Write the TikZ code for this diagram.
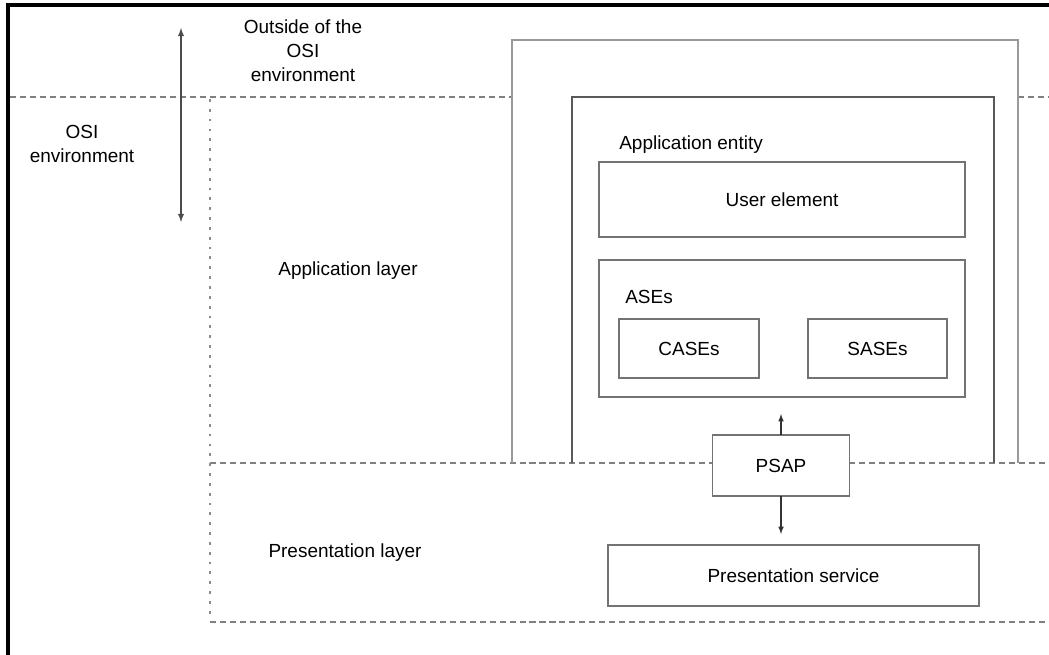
\documentclass[tikz,border=0pt]{standalone}
\usepackage{fontspec}
\setmainfont{Liberation Sans}
\begin{document}
\begin{tikzpicture}[x=0.025cm,y=-0.025cm,>=latex,
  font=\fontsize{13.5}{17}\selectfont,
  box/.style={draw=black!55,line width=1pt,fill=white,inner sep=0pt,outer sep=0pt},
  wall/.style={draw=black!50,line width=1.1pt},
  layer/.style={draw=black!50,line width=0.8pt,dash pattern=on 4.3pt off 2.8pt},
  edge/.style={draw=black!45,line width=1.3pt,dash pattern=on 2pt off 5pt},
  txt/.style={align=center,inner sep=0pt}]
\useasboundingbox (0,0) rectangle (1049,655);
\draw[line width=2.2pt] (8,655) -- (8,5) -- (1049,5);
\draw[layer] (10,97) -- (512,97);
\draw[layer] (1018,97) -- (1049,97);
\draw[layer] (210,463) -- (1049,463);
\draw[layer] (210,622) -- (1049,622);
\draw[edge] (210,99) -- (210,620);
\draw[wall,draw=black!40] (512,463) -- (512,40) -- (1018,40) -- (1018,463);
\draw[wall,draw=black!65] (572,463) -- (572,97) -- (994,97) -- (994,463);
\coordinate (top) at (181,28);
\coordinate (bot) at (181,222);
\draw[<->,black!70,line width=1pt] (top) -- (bot);
\node[txt] (outside) at (303,51) {Outside of the\\OSI\\environment};
\node[txt] (osienv) at (82,144) {OSI\\environment};
\node[txt] (applayer) at (348,271) {Application layer};
\node[txt] (preslayer) at (345,553) {Presentation layer};
\node[txt,anchor=west] (aentity) at (619,145) {Application entity};
\node[box,minimum width=9.15cm,minimum height=1.875cm] (ue) at (782,199.5) {User element};
\node[box,minimum width=9.15cm,minimum height=3.425cm] (ases) at (782,328.5) {};
\node[txt,anchor=west] (asestxt) at (625,297) {ASEs};
\node[box,minimum width=3.5cm,minimum height=1.475cm] (cases) at (689,348.5) {CASEs};
\node[box,minimum width=3.475cm,minimum height=1.475cm] (sases) at (877.5,348.5) {SASEs};
\node[box,minimum width=3.425cm,minimum height=1.525cm] (psap) at (781,465.5) {PSAP};
\node[box,minimum width=9.275cm,minimum height=1.525cm] (ps) at (793.5,575.5) {Presentation service};
\coordinate (up) at (781,414);
\coordinate (down) at (781,534);
\draw[->,black!80,line width=0.8pt] (psap) -- (up);
\draw[->,black!80,line width=0.8pt] (psap) -- (down);
\end{tikzpicture}
\end{document}
